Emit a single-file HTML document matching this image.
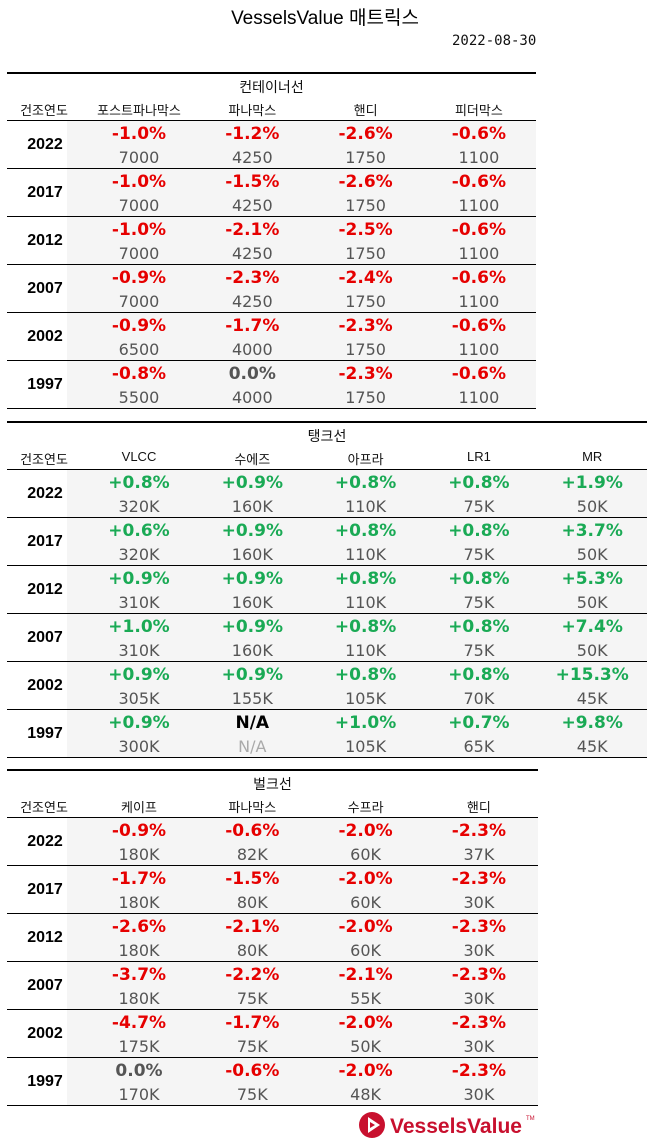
<!DOCTYPE html>
<html><head><meta charset="utf-8">
<style>
body{margin:0;width:650px;height:1145px;background:#fff;position:relative;overflow:hidden;font-family:"Liberation Sans","Noto Sans CJK KR",sans-serif}
.a{position:absolute;white-space:nowrap}
.c{transform:translateX(-50%);text-align:center}
.pct{font-family:"DejaVu Sans",sans-serif;font-weight:bold;font-size:17px}
.val{font-family:"DejaVu Sans",sans-serif;font-size:16px;color:#555}
.hdr{font-size:13px;color:#111;font-family:"Liberation Sans","Noto Sans CJK KR",sans-serif}
.yr{font-weight:bold;font-size:16px;color:#000}
</style></head><body>
<div class="a c" style="left:325px;top:3px;font-size:19px;color:#000">VesselsValue 매트릭스</div>
<div class="a" style="left:452px;top:33px;font-size:14px;font-family:'DejaVu Sans Mono','Liberation Mono',monospace;color:#111">2022-08-30</div>
<div id="root"></div>
<svg class="a" style="left:358px;top:1110px" width="180" height="30" viewBox="0 0 180 30">
<circle cx="14" cy="15" r="13" fill="#c8102e"/>
<polygon points="10,7 22,15 10,23" fill="#fff"/>
<polygon points="12,12 17,15 12,18" fill="#c8102e"/>
<text x="32" y="23" font-family="Liberation Sans, sans-serif" font-weight="bold" font-size="21" fill="#c8102e">VesselsValue</text>
<text x="168" y="10" font-family="Liberation Sans, sans-serif" font-size="6" fill="#c8102e">TM</text>
</svg>
<script>
const years=["2022","2017","2012","2007","2002","1997"];
const contTitle="컨테이너선";
const contCats=["포스트파나막스","파나막스","핸디","피더막스"];
const contPct=[["-1.0%","-1.2%","-2.6%","-0.6%"],["-1.0%","-1.5%","-2.6%","-0.6%"],["-1.0%","-2.1%","-2.5%","-0.6%"],["-0.9%","-2.3%","-2.4%","-0.6%"],["-0.9%","-1.7%","-2.3%","-0.6%"],["-0.8%","0.0%","-2.3%","-0.6%"]];
const contVal=[["7000","4250","1750","1100"],["7000","4250","1750","1100"],["7000","4250","1750","1100"],["7000","4250","1750","1100"],["6500","4000","1750","1100"],["5500","4000","1750","1100"]];
const tankTitle="탱크선";
const tankCats=["VLCC","수에즈","아프라","LR1","MR"];
const tankPct=[["+0.8%","+0.9%","+0.8%","+0.8%","+1.9%"],["+0.6%","+0.9%","+0.8%","+0.8%","+3.7%"],["+0.9%","+0.9%","+0.8%","+0.8%","+5.3%"],["+1.0%","+0.9%","+0.8%","+0.8%","+7.4%"],["+0.9%","+0.9%","+0.8%","+0.8%","+15.3%"],["+0.9%","N/A","+1.0%","+0.7%","+9.8%"]];
const tankVal=[["320K","160K","110K","75K","50K"],["320K","160K","110K","75K","50K"],["310K","160K","110K","75K","50K"],["310K","160K","110K","75K","50K"],["305K","155K","105K","70K","45K"],["300K","N/A","105K","65K","45K"]];
const bulkTitle="벌크선";
const bulkCats=["케이프","파나막스","수프라","핸디"];
const bulkPct=[["-0.9%","-0.6%","-2.0%","-2.3%"],["-1.7%","-1.5%","-2.0%","-2.3%"],["-2.6%","-2.1%","-2.0%","-2.3%"],["-3.7%","-2.2%","-2.1%","-2.3%"],["-4.7%","-1.7%","-2.0%","-2.3%"],["0.0%","-0.6%","-2.0%","-2.3%"]];
const bulkVal=[["180K","82K","60K","37K"],["180K","80K","60K","30K"],["180K","80K","60K","30K"],["180K","75K","55K","30K"],["175K","75K","50K","30K"],["170K","75K","48K","30K"]];

const root=document.getElementById('root');
function el(cls,txt,x,y,st){const d=document.createElement('div');d.className='a '+cls;d.textContent=txt;d.style.left=x+'px';d.style.top=y+'px';if(st)d.style.cssText+=st;root.appendChild(d);return d;}
function pctColor(p){if(p==='N/A')return '#000';const v=parseFloat(p);if(v>0)return '#1aaa55';if(v<0)return '#e60000';return '#555';}
function section(key,top,right,title,cats,pct,val){
  const l=el('',"",7,top,'width:'+(right-7)+'px;height:2px;background:#000');
  
  const t=el('hdr c',title,(7+right)/2,top+5,'font-size:14px');
  
  const h=el('hdr c','건조연도',44,top+28);
  
  cats.forEach((c,j)=>{const d=el('hdr c',c,139+j*113.3,top+28);
    });
  const hl=el('',"",7,top+48,'width:'+(right-7)+'px;height:1px;background:#000');
  
  years.forEach((y,i)=>{const rt=top+49+i*48;
    const bg=el('',"",67,rt,'width:'+(right-67)+'px;height:47px;background:#f5f5f5');
    
    const yr=el('yr c',y,45,rt+15);
    
    cats.forEach((c,j)=>{const x=139+j*113.3;
      const p=el('pct c',pct[i][j],x,rt+3,'color:'+pctColor(pct[i][j]));
      
      const v=el('val c',val[i][j],x,rt+27,val[i][j]==='N/A'?'color:#aaa':'');
      });
    const rl=el('',"",7,rt+47,'width:'+(right-7)+'px;height:1px;background:#000');
    
  });
}
section('container',72,536,contTitle,contCats,contPct,contVal);
section('tanker',421,647,tankTitle,tankCats,tankPct,tankVal);
section('bulk',769,538,bulkTitle,bulkCats,bulkPct,bulkVal);
</script>
</body></html>
